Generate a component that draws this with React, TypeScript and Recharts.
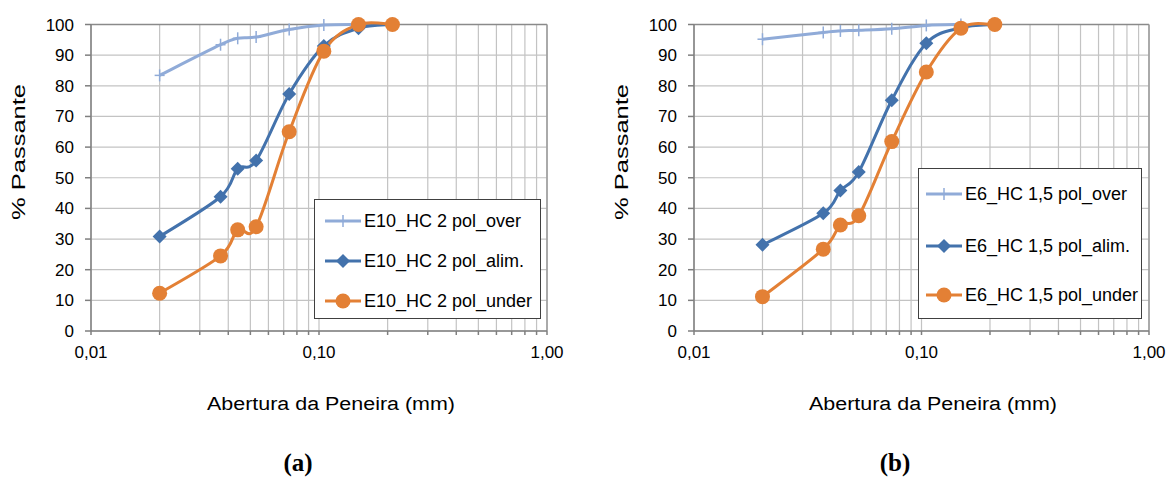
import React from "react";
import { CartesianGrid, Legend, Line, LineChart, ReferenceLine, XAxis, YAxis } from "recharts";

// abertura das peneiras (mm)
const SIEVES = [0.02, 0.037, 0.044, 0.053, 0.074, 0.105, 0.149, 0.21];

const OVER_A = [83.4, 93.4, 95.5, 95.9, 98.4, 99.8, 100];
const ALIM_A = [30.8, 43.8, 52.9, 55.6, 77.3, 93.0, 98.8, 100];
const UNDER_A = [12.3, 24.5, 33.0, 34.0, 65.0, 91.3, 100, 100];

const OVER_B = [95.2, 97.4, 97.9, 98.1, 98.6, 99.7, 100];
const ALIM_B = [28.1, 38.4, 45.8, 51.9, 75.3, 93.9, 98.9, 100];
const UNDER_B = [11.2, 26.7, 34.6, 37.6, 61.8, 84.5, 98.8, 100];

const LABELS_A = ["E10_HC 2 pol_over", "E10_HC 2 pol_alim.", "E10_HC 2 pol_under"];
const LABELS_B = ["E6_HC 1,5 pol_over", "E6_HC 1,5 pol_alim.", "E6_HC 1,5 pol_under"];

const X_TICKS = [
  0.01, 0.02, 0.03, 0.04, 0.05, 0.06, 0.07, 0.08, 0.09,
  0.1, 0.2, 0.3, 0.4, 0.5, 0.6, 0.7, 0.8, 0.9, 1,
];
const X_LABELED = [0.01, 0.1, 1];
const Y_TICKS = [0, 10, 20, 30, 40, 50, 60, 70, 80, 90, 100];

const X_TITLE = "Abertura da Peneira (mm)";
const Y_TITLE = "% Passante";

const FONT = "'Liberation Sans', Arial, sans-serif";
const COLORS = { over: "#90ABD8", alim: "#4372AC", under: "#E38035" };
type Kind = "over" | "alim" | "under";
const KINDS: Kind[] = ["over", "alim", "under"];

const toPoints = (vals: number[]) => vals.map((y, i) => ({ x: SIEVES[i], y }));

// Excel-style smoothed line (Catmull-Rom as cubic bezier)
function excelCurve(context: any) {
  let pts: [number, number][] = [];
  return {
    areaStart() {},
    areaEnd() {},
    lineStart() {
      pts = [];
    },
    point(x: number, y: number) {
      pts.push([+x, +y]);
    },
    lineEnd() {
      if (!pts.length) return;
      context.moveTo(pts[0][0], pts[0][1]);
      for (let i = 0; i < pts.length - 1; i++) {
        const p0 = pts[Math.max(i - 1, 0)];
        const p1 = pts[i];
        const p2 = pts[i + 1];
        const p3 = pts[Math.min(i + 2, pts.length - 1)];
        context.bezierCurveTo(
          p1[0] + (p2[0] - p0[0]) / 6,
          p1[1] + (p2[1] - p0[1]) / 6,
          p2[0] - (p3[0] - p1[0]) / 6,
          p2[1] - (p3[1] - p1[1]) / 6,
          p2[0],
          p2[1]
        );
      }
    },
  };
}

function Marker({ kind, cx, cy }: { kind: Kind; cx: number; cy: number }) {
  const c = COLORS[kind];
  if (kind === "over")
    return (
      <g>
        <line x1={cx - 5} x2={cx + 5} y1={cy} y2={cy} stroke={c} strokeWidth={1.5} />
        <line x1={cx} x2={cx} y1={cy - 6} y2={cy + 6} stroke={c} strokeWidth={1.5} />
      </g>
    );
  if (kind === "alim")
    return <polygon points={`${cx},${cy - 7} ${cx + 7},${cy} ${cx},${cy + 7} ${cx - 7},${cy}`} fill={c} />;
  return <circle cx={cx} cy={cy} r={7.5} fill={c} />;
}

const dotFor = (kind: Kind) => (p: any) => (
  <Marker key={`${kind}-${p.index}`} kind={kind} cx={p.cx} cy={p.cy} />
);

interface ChartCfg {
  left: number;
  width: number;
  yWidth: number;
  marginRight: number;
  series: number[][];
  labels: string[];
  legend: { left: number; top: number; width: number; height: number; rows: number[]; lineX: number; textX: number };
  xTitleX: number; // relative to the chart
  yTitleX: number;
  caption: string;
  captionX: number;
}

const CHART_A: ChartCfg = {
  left: 0, width: 580, yWidth: 91, marginRight: 33,
  series: [OVER_A, ALIM_A, UNDER_A], labels: LABELS_A,
  legend: { left: 314, top: 199, width: 227, height: 120, rows: [21, 61, 101], lineX: 10, textX: 49 },
  xTitleX: 331, yTitleX: 19, caption: "(a)", captionX: 298,
};

const CHART_B: ChartCfg = {
  left: 580, width: 590, yWidth: 114, marginRight: 21,
  series: [OVER_B, ALIM_B, UNDER_B], labels: LABELS_B,
  legend: { left: 338, top: 168, width: 224, height: 151, rows: [25, 77, 126], lineX: 7, textX: 46 },
  xTitleX: 353, yTitleX: 42, caption: "(b)", captionX: 315,
};

const CHART_H = 440;
const PLOT_BOTTOM = 331;

function LegendBox({ cfg }: { cfg: ChartCfg }) {
  const lg = cfg.legend;
  return (
    <div style={{ ...s.legendBox, width: lg.width, height: lg.height }}>
      {KINDS.map((k, i) => (
        <div key={k} style={{ position: "absolute", left: 0, top: lg.rows[i] - 10, height: 20, width: lg.width }}>
          <svg width={lg.textX} height={20} style={{ position: "absolute", left: 0, top: 0 }}>
            <line x1={lg.lineX} x2={lg.lineX + 36} y1={10} y2={10} stroke={COLORS[k]} strokeWidth={3} />
            <Marker kind={k} cx={lg.lineX + 18} cy={10} />
          </svg>
          <span style={{ ...s.legendText, left: lg.textX }}>{cfg.labels[i]}</span>
        </div>
      ))}
    </div>
  );
}

function GranChart({ cfg }: { cfg: ChartCfg }) {
  return (
    <div style={{ position: "absolute", left: cfg.left, top: 0, width: cfg.width, height: 480 }}>
      <LineChart width={cfg.width} height={CHART_H} margin={{ top: 24.5, right: cfg.marginRight, bottom: 0, left: 0 }}>
        <CartesianGrid stroke="#c3c3c3" strokeWidth={1.2} />
        <XAxis
          type="number"
          dataKey="x"
          scale="log"
          domain={[0.01, 1]}
          ticks={X_TICKS}
          interval={0}
          allowDataOverflow
          height={CHART_H - PLOT_BOTTOM}
          tickSize={4}
          tickMargin={11}
          stroke="#7f7f7f"
          strokeWidth={1.5}
          tick={{ fill: "#000", fontSize: 17, fontFamily: FONT }}
          tickFormatter={(v: number) => (X_LABELED.includes(v) ? v.toFixed(2).replace(".", ",") : "")}
        />
        <YAxis
          type="number"
          domain={[0, 100]}
          ticks={Y_TICKS}
          interval={0}
          width={cfg.yWidth}
          tickSize={6}
          tickMargin={11}
          stroke="#7f7f7f"
          strokeWidth={1.5}
          tick={{ fill: "#000", fontSize: 17, fontFamily: FONT }}
        />
        <ReferenceLine y={100} stroke="#8a8a8a" strokeWidth={1.5} />
        <ReferenceLine x={1} stroke="#9a9a9a" strokeWidth={1.5} />
        {KINDS.map((k, i) => (
          <Line
            key={k}
            data={toPoints(cfg.series[i])}
            dataKey="y"
            type={excelCurve as any}
            stroke={COLORS[k]}
            strokeWidth={3}
            dot={dotFor(k)}
            activeDot={false}
            isAnimationActive={false}
          />
        ))}
        <Legend
          layout="vertical"
          align="center"
          verticalAlign="middle"
          wrapperStyle={{ left: cfg.legend.left, top: cfg.legend.top, width: cfg.legend.width, height: cfg.legend.height }}
          content={() => <LegendBox cfg={cfg} />}
        />
      </LineChart>
      <svg width={cfg.width} height={480} style={{ position: "absolute", left: 0, top: 0, pointerEvents: "none" }}>
        <text x={cfg.xTitleX} y={410} textAnchor="middle" fontFamily={FONT} fontSize={18} fill="#000" textLength={248} lengthAdjust="spacingAndGlyphs">
          {X_TITLE}
        </text>
        <text
          x={cfg.yTitleX}
          y={152}
          transform={`rotate(-90, ${cfg.yTitleX}, 152)`}
          textAnchor="middle"
          dominantBaseline="central"
          fontFamily={FONT}
          fontSize={18}
          fill="#000"
          textLength={136}
          lengthAdjust="spacingAndGlyphs"
        >
          {Y_TITLE}
        </text>
        <text x={cfg.captionX} y={471} textAnchor="middle" fontFamily="'Liberation Serif', 'Times New Roman', serif" fontWeight="bold" fontSize={25} fill="#000">
          {cfg.caption}
        </text>
      </svg>
    </div>
  );
}

export default function App() {
  return (
    <div style={s.page}>
      <GranChart cfg={CHART_A} />
      <GranChart cfg={CHART_B} />
    </div>
  );
}

const s: Record<string, React.CSSProperties> = {
  page: { position: "fixed", left: 0, top: 0, width: 1170, height: 480, background: "#fff", overflow: "hidden" },
  legendBox: { position: "relative", boxSizing: "border-box", border: "1px solid #404040", background: "#fff" },
  legendText: { position: "absolute", top: 0, lineHeight: "20px", fontFamily: FONT, fontSize: 18, color: "#000", whiteSpace: "nowrap" },
};
